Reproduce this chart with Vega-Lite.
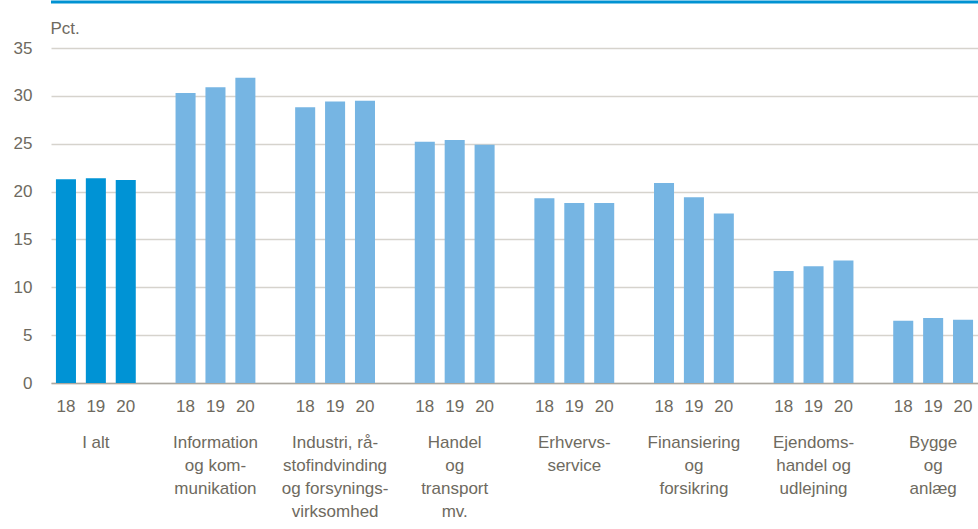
{
  "$schema": "https://vega.github.io/schema/vega-lite/v6.json",
  "width": 927,
  "height": 335,
  "autosize": {"type": "none"},
  "padding": {"left": 51, "top": 48, "right": 0, "bottom": 146},
  "config": {
    "view": {"stroke": null},
    "font": "Liberation Sans, Arial, sans-serif"
  },
  "datasets": {
    "bars": [
      {"key": "I alt|18", "cat": "I alt", "year": "18", "value": 21.3, "group": "total"},
      {"key": "I alt|19", "cat": "I alt", "year": "19", "value": 21.4, "group": "total"},
      {"key": "I alt|20", "cat": "I alt", "year": "20", "value": 21.2, "group": "total"},
      {"key": "Info|18", "cat": "Information og kommunikation", "year": "18", "value": 30.3, "group": "branche"},
      {"key": "Info|19", "cat": "Information og kommunikation", "year": "19", "value": 30.9, "group": "branche"},
      {"key": "Info|20", "cat": "Information og kommunikation", "year": "20", "value": 31.9, "group": "branche"},
      {"key": "Industri|18", "cat": "Industri", "year": "18", "value": 28.8, "group": "branche"},
      {"key": "Industri|19", "cat": "Industri", "year": "19", "value": 29.4, "group": "branche"},
      {"key": "Industri|20", "cat": "Industri", "year": "20", "value": 29.5, "group": "branche"},
      {"key": "Handel|18", "cat": "Handel og transport", "year": "18", "value": 25.2, "group": "branche"},
      {"key": "Handel|19", "cat": "Handel og transport", "year": "19", "value": 25.4, "group": "branche"},
      {"key": "Handel|20", "cat": "Handel og transport", "year": "20", "value": 24.9, "group": "branche"},
      {"key": "Erhverv|18", "cat": "Erhvervsservice", "year": "18", "value": 19.3, "group": "branche"},
      {"key": "Erhverv|19", "cat": "Erhvervsservice", "year": "19", "value": 18.8, "group": "branche"},
      {"key": "Erhverv|20", "cat": "Erhvervsservice", "year": "20", "value": 18.8, "group": "branche"},
      {"key": "Finans|18", "cat": "Finansiering og forsikring", "year": "18", "value": 20.9, "group": "branche"},
      {"key": "Finans|19", "cat": "Finansiering og forsikring", "year": "19", "value": 19.4, "group": "branche"},
      {"key": "Finans|20", "cat": "Finansiering og forsikring", "year": "20", "value": 17.7, "group": "branche"},
      {"key": "Ejendom|18", "cat": "Ejendomshandel og udlejning", "year": "18", "value": 11.7, "group": "branche"},
      {"key": "Ejendom|19", "cat": "Ejendomshandel og udlejning", "year": "19", "value": 12.2, "group": "branche"},
      {"key": "Ejendom|20", "cat": "Ejendomshandel og udlejning", "year": "20", "value": 12.8, "group": "branche"},
      {"key": "Bygge|18", "cat": "Bygge og anlæg", "year": "18", "value": 6.5, "group": "branche"},
      {"key": "Bygge|19", "cat": "Bygge og anlæg", "year": "19", "value": 6.8, "group": "branche"},
      {"key": "Bygge|20", "cat": "Bygge og anlæg", "year": "20", "value": 6.6, "group": "branche"}
    ],
    "cats": [
      {"key": "I alt|19", "label": "I alt"},
      {"key": "Info|19", "label": "Information\nog kom-\nmunikation"},
      {"key": "Industri|19", "label": "Industri, rå-\nstofindvinding\nog forsynings-\nvirksomhed"},
      {"key": "Handel|19", "label": "Handel\nog\ntransport\nmv."},
      {"key": "Erhverv|19", "label": "Erhvervs-\nservice"},
      {"key": "Finans|19", "label": "Finansiering\nog\nforsikring"},
      {"key": "Ejendom|19", "label": "Ejendoms-\nhandel og\nudlejning"},
      {"key": "Bygge|19", "label": "Bygge\nog\nanlæg"}
    ]
  },
  "layer": [
    {
      "data": {"values": [{}]},
      "mark": {"type": "rule", "color": "#0092D2", "strokeWidth": 3},
      "encoding": {
        "y": {"datum": 39.8, "type": "quantitative", "scale": {"domain": [0, 35], "nice": false, "zero": true}, "title": null}
      }
    },
    {
      "data": {"name": "bars"},
      "mark": {"type": "bar"},
      "encoding": {
        "x": {
          "field": "key",
          "type": "nominal",
          "sort": null,
          "scale": {
            "type": "band",
            "paddingInner": 0.33,
            "paddingOuter": 0.165,
            "domain": ["I alt|18", "I alt|19", "I alt|20", "gap1",
                       "Info|18", "Info|19", "Info|20", "gap2",
                       "Industri|18", "Industri|19", "Industri|20", "gap3",
                       "Handel|18", "Handel|19", "Handel|20", "gap4",
                       "Erhverv|18", "Erhverv|19", "Erhverv|20", "gap5",
                       "Finans|18", "Finans|19", "Finans|20", "gap6",
                       "Ejendom|18", "Ejendom|19", "Ejendom|20", "gap7",
                       "Bygge|18", "Bygge|19", "Bygge|20"]
          },
          "axis": {
            "title": null,
            "labelAngle": 0,
            "labelExpr": "indexof(datum.value, '|') > 0 ? split(datum.value, '|')[1] : ''",
            "labelFontSize": 17,
            "labelColor": "#6E6A60",
            "labelPadding": 15,
            "labelOverlap": false,
            "ticks": false,
            "tickSize": 0,
            "domain": true,
            "domainColor": "#ABA79F",
            "domainWidth": 1.5,
            "grid": false
          }
        },
        "y": {
          "field": "value",
          "type": "quantitative",
          "scale": {"domain": [0, 35], "nice": false, "zero": true},
          "axis": {
            "values": [0, 5, 10, 15, 20, 25, 30, 35],
            "grid": true,
            "gridColor": "#D6D3CD",
            "gridWidth": 1.5,
            "domain": false,
            "ticks": false,
            "tickSize": 0,
            "labelPadding": 19,
            "labelFontSize": 17,
            "labelColor": "#6E6A60",
            "title": "Pct.",
            "titleAngle": 0,
            "titleAlign": "left",
            "titleBaseline": "alphabetic",
            "titleX": -1,
            "titleY": -15,
            "titleFontSize": 17,
            "titleFontWeight": "normal",
            "titleColor": "#6E6A60"
          }
        },
        "color": {
          "field": "group",
          "type": "nominal",
          "scale": {"domain": ["total", "branche"], "range": ["#0093D5", "#76B5E3"]},
          "legend": null
        }
      }
    },
    {
      "data": {"name": "cats"},
      "mark": {
        "type": "text",
        "baseline": "top",
        "align": "center",
        "dy": 52,
        "fontSize": 17,
        "lineHeight": 23,
        "lineBreak": "\n",
        "color": "#6E6A60"
      },
      "encoding": {
        "x": {"field": "key", "type": "nominal", "sort": null, "title": null},
        "y": {"datum": 0, "type": "quantitative", "title": null},
        "text": {"field": "label", "type": "nominal"}
      }
    }
  ]
}
